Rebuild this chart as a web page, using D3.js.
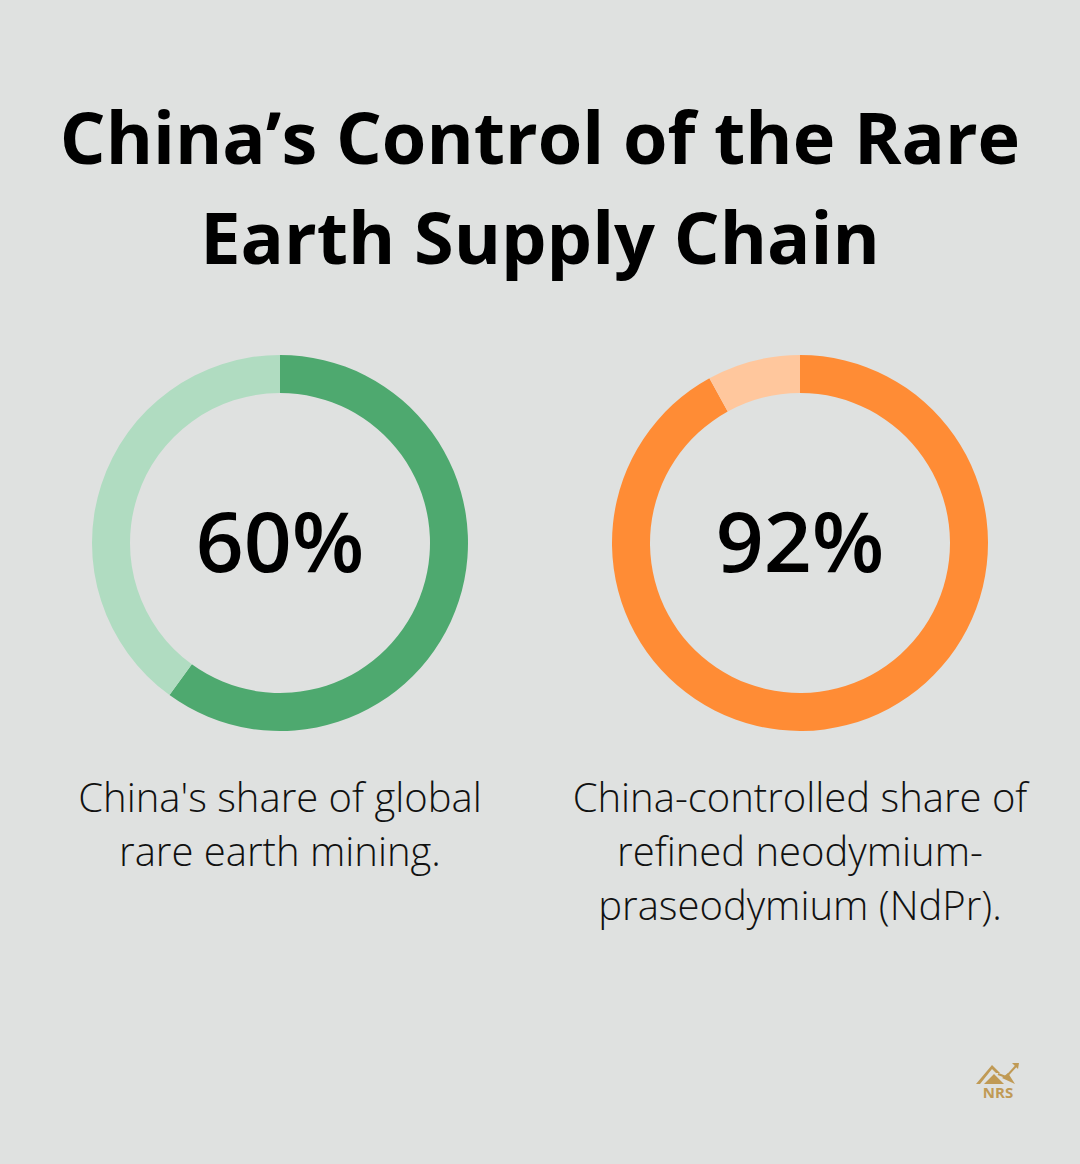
<!DOCTYPE html>
<html><head><meta charset="utf-8">
<script src="https://cdn.jsdelivr.net/npm/d3@7"></script>
<style>body{margin:0;background:#dfe1e0;}svg{display:block;}</style>
</head><body><div id="wrapper"></div>
<script>
const titleLines = ["China’s Control of the Rare", "Earth Supply Chain"];
const values = [60, 92];
const valueLabels = ["60%", "92%"];
const captions = [["China's share of global", "rare earth mining."],
  ["China-controlled share of", "refined neodymium-", "praseodymium (NdPr)."]];
const mainColors = ["#4ea96f", "#ff8c35"];
const restColors = ["#b0dcc1", "#ffc79d"];

const width = 1080, height = 1164;
const svg = d3.select("#wrapper").append("svg").attr("width", width).attr("height", height);
svg.append("rect").attr("width", width).attr("height", height).attr("fill", "#dfe1e0");

svg.selectAll(".title").data(titleLines).enter().append("text")
  .attr("x", 540).attr("y", (d, i) => 164 + i * 100)
  .attr("text-anchor", "middle").attr("font-family", "Open Sans").attr("font-weight", 700)
  .attr("font-size", "72px").attr("fill", "#000").text(d => d);

const xScale = d3.scalePoint().domain(d3.range(values.length)).range([280, 800]);
const pie = d3.pie().sort(null);
const arc = d3.arc().innerRadius(150).outerRadius(188);

values.forEach((v, i) => {
  const g = svg.append("g").attr("transform", `translate(${xScale(i)},543)`);
  g.selectAll("path").data(pie([v, 100 - v])).enter().append("path")
    .attr("d", arc).attr("fill", (d, j) => j === 0 ? mainColors[i] : restColors[i]);
  g.append("text").attr("y", 29).attr("text-anchor", "middle")
    .attr("font-family", "Open Sans").attr("font-weight", 600).attr("font-size", "84px").attr("fill", "#000")
    .text(valueLabels[i]);
  svg.selectAll(null).data(captions[i]).enter().append("text")
    .attr("x", xScale(i)).attr("y", (d, k) => 812 + k * 54)
    .attr("text-anchor", "middle").attr("font-family", "Open Sans").attr("font-weight", 300)
    .attr("font-size", "40px").attr("fill", "#111").text(d => d);
});

// logo
const logo = svg.append("g").attr("transform", "translate(998,1080)").attr("fill", "#c09a55");
logo.append("path").attr("d", "M-22,4 L-6,-15 L2,-7 L-2,-7 L-6,-11 L-18,4 Z");
logo.append("path").attr("d", "M-14,4 L-4,-6 L6,4 Z M4,-2 L10,-7 L17,4 Z");
logo.append("path").attr("d", "M0,-6 L8,-3 L18,-14").attr("fill", "none").attr("stroke", "#c09a55").attr("stroke-width", 2);
logo.append("path").attr("d", "M14,-17 L21,-17 L20,-11 Z");
logo.append("text").attr("y", 18).attr("text-anchor", "middle").attr("font-family", "Open Sans")
  .attr("font-weight", 700).attr("font-size", "15px").text("NRS");
</script></body></html>
